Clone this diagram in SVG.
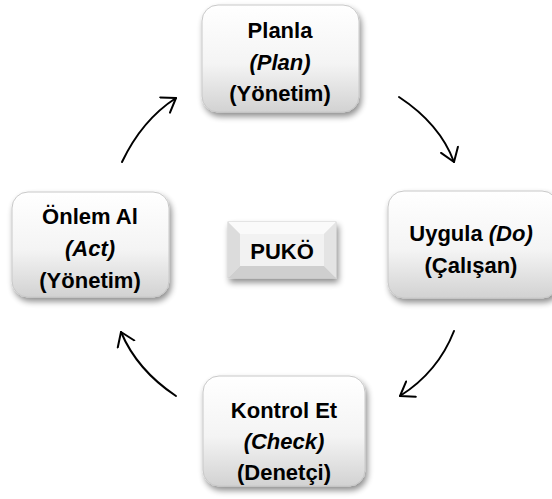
<svg xmlns="http://www.w3.org/2000/svg" width="552" height="499" viewBox="0 0 552 499">
<style>
.box{fill:url(#g);stroke:#c8c8c8;stroke-width:1;filter:url(#sh)}
.t{font-family:"Liberation Sans",Arial,sans-serif;font-weight:bold;font-size:22px;fill:#000;text-anchor:middle}
.i{font-style:italic}
.c{fill:none;stroke:#000;stroke-width:2;stroke-linecap:round}
</style>
<defs>
<linearGradient id="g" x1="0" y1="0" x2="0" y2="1">
<stop offset="0" stop-color="#ffffff"/>
<stop offset="0.55" stop-color="#f4f4f4"/>
<stop offset="1" stop-color="#d2d2d2"/>
</linearGradient>
<filter id="sh" x="-20%" y="-20%" width="140%" height="150%">
<feGaussianBlur in="SourceAlpha" stdDeviation="3"/>
<feOffset dx="2" dy="4" result="b"/>
<feComponentTransfer><feFuncA type="linear" slope="0.45"/></feComponentTransfer>
<feMerge><feMergeNode/><feMergeNode in="SourceGraphic"/></feMerge>
</filter>
<marker id="ah" markerWidth="28" markerHeight="28" refX="14" refY="14" orient="auto" markerUnits="userSpaceOnUse">
<path d="M1,5 L14,14 L1,23" fill="none" stroke="#000" stroke-width="2" stroke-linecap="round" stroke-linejoin="round"/>
</marker>
</defs>
<rect width="552" height="499" fill="#fff"/>
<g id="connectors">
<path class="c" d="M122,162 Q142,120 176,98" marker-end="url(#ah)"/>
<path class="c" d="M399,97 Q440,124 454,162" marker-end="url(#ah)"/>
<path class="c" d="M454,331 Q438,372 400,396" marker-end="url(#ah)"/>
<path class="c" d="M176,396 Q137,370 121,332" marker-end="url(#ah)"/>
</g>
<g id="plan">
<rect class="box" x="202" y="5" width="157" height="107" rx="16"/>
<text class="t" x="280" y="38">Planla</text>
<text class="t i" x="280" y="70">(Plan)</text>
<text class="t" x="280" y="101">(Yönetim)</text>
</g>
<g id="do">
<rect class="box" x="388" y="191" width="170" height="107" rx="16"/>
<text class="t" x="471" y="241">Uygula <tspan class="i">(Do)</tspan></text>
<text class="t" x="471" y="273">(Çalışan)</text>
</g>
<g id="check">
<rect class="box" x="203" y="376" width="162" height="110" rx="16"/>
<text class="t" x="284" y="418">Kontrol Et</text>
<text class="t i" x="284" y="449">(Check)</text>
<text class="t" x="284" y="480">(Denetçi)</text>
</g>
<g id="act">
<rect class="box" x="12" y="192" width="157" height="105" rx="16"/>
<text class="t" x="90" y="224">Önlem Al</text>
<text class="t i" x="90" y="256">(Act)</text>
<text class="t" x="90" y="288">(Yönetim)</text>
</g>
<g id="puko">
<rect x="228" y="222" width="108" height="56" fill="#f0f0f0" stroke="#d0d0d0" filter="url(#sh)"/>
<polygon points="228,222 336,222 324,234 240,234" fill="#fafafa"/>
<polygon points="228,222 240,234 240,266 228,278" fill="#dcdcdc"/>
<polygon points="336,222 336,278 324,266 324,234" fill="#e4e4e4"/>
<polygon points="228,278 240,266 324,266 336,278" fill="#cfcfcf"/>
<rect x="240" y="234" width="84" height="32" fill="#f2f2f2"/>
<text class="t" x="282" y="259">PUKÖ</text>
</g>
</svg>
